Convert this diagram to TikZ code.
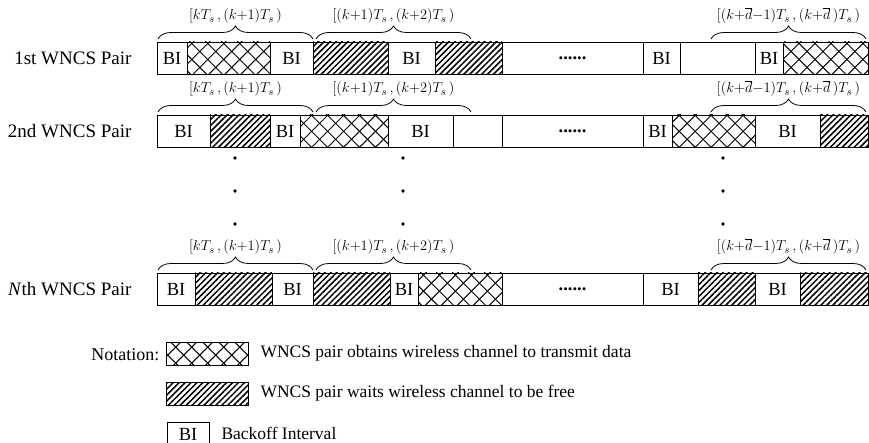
\documentclass[tikz,border=0pt]{standalone}
\usepackage{fontspec}
\setmainfont{Liberation Serif}
\usetikzlibrary{patterns.meta,decorations.pathreplacing}

\begin{document}
\begin{tikzpicture}[x=1pt, y=-1pt,
    seg/.style={draw, line width=0.8pt, inner sep=0pt, outer sep=0pt,
      minimum height=32pt, anchor=north west, font=\fontsize{18.5}{20}\selectfont},
    bi/.style={seg, node contents={BI}},
    idle/.style={seg, node contents={}},
    skipped/.style={seg, node contents={\textbf{......}}},
    waits/.style={seg, node contents={},
      pattern={Lines[angle=45,distance=4.2pt,line width=1.5pt]}},
    sends/.style={seg, node contents={},
      pattern={Lines[angle=45,distance=11.3pt,line width=1pt]},
      postaction={pattern={Lines[angle=-45,distance=11.3pt,line width=1pt]}}},
    period/.style={decorate, decoration={brace, amplitude=13pt}, line width=0.8pt},
    slot/.style={font=\fontsize{15}{17}\selectfont, inner sep=1pt},
    pair/.style={anchor=east, font=\fontsize{19}{21}\selectfont},
    legend/.style={anchor=west, font=\fontsize{17.5}{19}\selectfont}
  ]
  \useasboundingbox (0,0) rectangle (869,443);

  % 1st pair
  \node[pair] (p1) at (135,58) {1st WNCS Pair};
  \foreach \xa/\xb/\kind [count=\i] in {157/187/bi, 187/270/sends, 270/313/bi,
      313/388/waits, 388/435/bi, 435/502/waits, 502/643/skipped, 643/680/bi,
      680/755/idle, 755/783/bi, 783/868/sends}
    \node[\kind, minimum width={(\xb-\xa)*1pt}, name=a\i, at={(\xa,42)}];

  % 2nd pair
  \node[pair] (p2) at (135,131) {2nd WNCS Pair};
  \foreach \xa/\xb/\kind [count=\i] in {157/210/bi, 210/270/waits, 270/300/bi,
      300/388/sends, 388/453/bi, 453/502/idle, 502/643/skipped, 643/672/bi,
      672/755/sends, 755/820/bi, 820/868/waits}
    \node[\kind, minimum width={(\xb-\xa)*1pt}, name=b\i, at={(\xa,115)}];

  % Nth pair
  \node[pair] (pN) at (135,289) {\textit{N}th WNCS Pair};
  \foreach \xa/\xb/\kind [count=\i] in {157/195/bi, 195/272/waits, 272/313/bi,
      313/390/waits, 390/418/bi, 418/502/sends, 502/643/skipped, 643/698/bi,
      698/755/waits, 755/800/bi, 800/868/waits}
    \node[\kind, minimum width={(\xb-\xa)*1pt}, name=n\i, at={(\xa,273)}];

  % time slots
  \foreach \top in {42,115,273}{
    \draw[period] (158,\top-3) -- (313,\top-3)
      node[slot, midway, above=14pt] {$[kT_s\,,(k{+}1)T_s\,)$};
    \draw[period] (316,\top-3) -- (471,\top-3)
      node[slot, midway, above=14pt] {$[(k{+}1)T_s\,,(k{+}2)T_s\,)$};
    \draw[period] (711,\top-3) -- (866,\top-3)
      node[slot, midway, above=14pt] {$[(k{+}\overline{d}{-}1)T_s\,,(k{+}\overline{d}\,)T_s\,)$};
  }

  \foreach \x in {235,403,723}
    \foreach \y in {158,191,224}
      \fill (\x,\y) circle (1.8pt);

  % legend
  \node[anchor=east, font=\fontsize{18}{20}\selectfont] (note) at (163,355) {Notation:};
  \node[sends, minimum width=82pt, minimum height=23pt, name=lsend, at={(166,342)}];
  \node[legend] (tsend) at (257,353) {WNCS pair obtains wireless channel to transmit data};
  \node[waits, minimum width=82pt, minimum height=23pt, name=lwait, at={(166,382)}];
  \node[legend] (twait) at (257,393) {WNCS pair waits wireless channel to be free};
  \node[bi, minimum width=42pt, minimum height=25pt, name=lbi, at={(167,422)}];
  \node[legend] (tbi) at (218,433) {Backoff Interval};
\end{tikzpicture}
\end{document}
